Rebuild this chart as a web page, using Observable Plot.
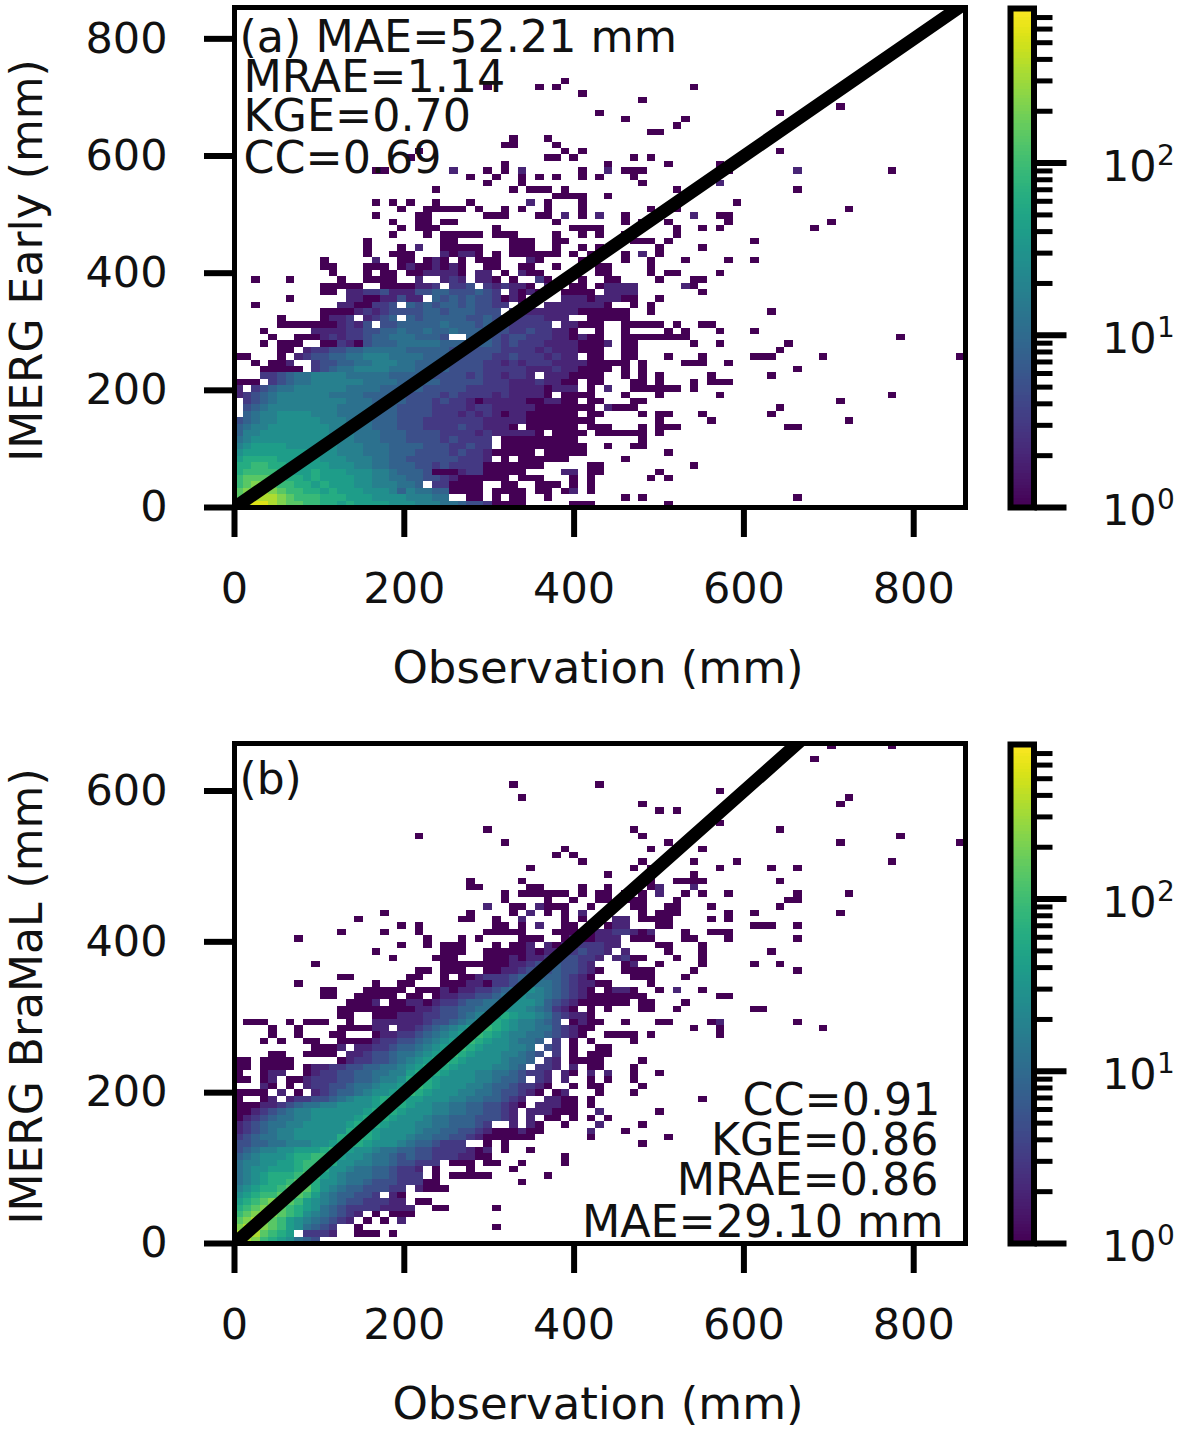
<!DOCTYPE html>
<html><head><meta charset="utf-8">
<script src="https://cdn.jsdelivr.net/npm/d3@7"></script>
<script src="https://cdn.jsdelivr.net/npm/@observablehq/plot@0.6"></script>
<style>
html,body{margin:0;padding:0;background:#fff}
#wrap{position:relative;width:1181px;height:1435px;overflow:hidden}
#wrap>div{position:absolute}
svg{display:block;overflow:visible}
</style></head><body><div id="wrap"></div>
<script>
// per-row cells, bottom row first: "startColumn:levels", "." = empty cell
const levelKeys = "123456789abcdef";
const levelCounts = [1,2,3,5,8,12,18,27,40,60,90,140,220,350,550];
const xTicks = [0,200,400,600,800];
const yTicksA = [0,200,400,600,800];
const yTicksB = [0,200,400,600];
const xMax = 861, yMaxA = 853.5, yMaxB = 663;
const nCols = 85, nRows = 78;
const diagonal = [0, 900];
const cbarMajor = [1,10,100];
const cbarExponents = ["0","1","2"];
const cbarMinor = [2,3,4,5,6,7,8,9,20,30,40,50,60,70,80,90,200,300,400,500,600,700];
const cbarMax = 790;
const xLabel = "Observation (mm)";
const notesA = ["(a) MAE=52.21 mm","MRAE=1.14","KGE=0.70","CC=0.69"];
const notesB = ["CC=0.91","KGE=0.86","MRAE=0.86","MAE=29.10 mm"];

const rowsA = [
"0:deffedccbb 10:aa9a999988 20:8777665443 30:1111.....1 40:11 50:1",
"0:cdeeedcbbb 10:aaa9998888 20:77766..11. 30:1.11..1... 45:1 47:1 65:1",
"0:cdeedcbbaa 10:9a99988875 20:766551111. 30:1111.11.12 41:1",
"0:bcddcbbaa9 10:a999887776 20:65.331111. 30:.11..111.1 41:1",
"0:bccccbaa9a 10:9999887766 20:5544321111 30:11.111...1 41:1 48:1 50:1",
"0:abbbbaa99a 10:9998887765 20:5541112331 30:1111....22 41:11 49:1",
"0:aabbaa9999 10:9888776655 20:5443433331 30:111111.... 41:11 53:1",
"0:9aaaa99999 10:8887776655 20:4444443332 30:.1.111111. 45:1",
"0:8999999998 10:8877766655 20:5444434332 30:11111.1111 40:1 50:1",
"0:7899998888 10:8877766655 20:5544433433 30:.111111111 40:1 43:1 46:11",
"0:6788888888 10:8777666555 20:4444343333 30:.111111111 47:1",
"0:5778888888 10:8777666555 20:4444333323 30:222221.111 40:1 42:111111 49:1",
"0:5677888888 10:8776665554 20:4433334332 30:221.111111 41:11 43:1 47:1 49:1 50:11 64:11",
"0:4567788888 10:7776665554 20:4433333332 30:2222111111 40:11 49:1 55:1 71:1",
"0:.567788887 10:7766655554 20:4443332323 30:2122111111 41:11 47:1 49:1 50:1 54:1 62:1",
"0:.456777777 10:7766665554 20:4443333233 30:2222211111 40:11 43:2111 63:1",
"0:.345677777 10:7776665555 20:4443433212 30:2222112211 41:11 46:11 70:1",
"0:2345677777 10:7666655555 20:4444343333 30:2322221.11 40:11 45:1 49:1 56:1 76:1",
"0:2.34566777 10:7776666555 20:5544444333 30:3322221222 41:1 43:2 46:111 49:111 53:1",
"0:111.345667 10:7777766665 20:5555444443 30:3322232211 41:11 46:11 49:1 53:1 55:111",
"3:3345667 10:7776666655 20:5554444343 30:32332.2221 40:111 45:1 47:1 49:1 55:1 62:1",
"3:11111 9:3 10:4566777766 20:6555544443 30:3333222322 40:111 43:1 45:1 47:1 65:1",
"2:1 4:112 9:3 10:4455667776 20:6555544443 30:3232333222 40:211111 47:1 52:111 57:1",
"0:11 5:1 7:234 10:4556677766 20:6655544444 30:3343332322 41:11 45:11 50:1 54:1 60:111 68:1 84:1",
"5:11 8:23 10:3445566666 20:5555544444 30:4333323222 40:111 45:11 63:1",
"3:1 5:111 10:1132145556 20:6666555555 30:4343332222 40:111 43:2 45:11 53:1 56:1 64:1",
"4:1 7:111 10:2323345566 20:65554..555 30:4344333221 40:211 45:11 47:11111 52:1 77:1",
"3:1 9:2 10:2223344556 20:5565565555 30:4433433221 42:1 45:1 50:1 52:1 56:1 60:1",
"5:11111 10:112324.445 20:5555655545 30:4433333.22 40:111 45:11 47:111 51:1 54:11",
"5:1 10:1223.2345. 20:5455555445 30:443333222. 41:11111",
"10:1111232344 20:4455455544 30:4.33222222 40:111111 48:1 62:1",
"2:1 12:2211334. 20:5454554544 30:33.2..2222 40:2221 46:1 48:1",
"6:1 13:2211224 20:22.5454544 30:3121....22 40:2122211 46:1 49:1",
"10:11.2233422 20:2445544454 30:3.21212.11 40:11 43:2222 54:1",
"10:11111..111 20:1223.334.3 30:23221.2..1 40:1.1 43:2222 52:21 53:1",
"2:1 6:1 12:1 15:1111 21:2 24:23 26:2 28:22 30:1 32:1 35:3 36:1 38:1 40:1 43:11 49:1 53:11",
"11:1 15:1 17:11 20:112 23:22 25:21 28:22 31:1 33:211 42:11 48:1 50:11 56:1",
"10:11 15:111 19:1 20:211 23:212 26:1 29:11 33:11 37:1 42:11 48:1",
"10:1 16:2 19:11 22:121 26:1 28:111 34:21 40:1 45:1 48:1 52:1 57:1 60:1",
"15:1 18:11 20:1 24:21221 30:1 32:1111 36:11 39:1 41:11 45:1 47:2 49:1",
"15:1 19:1 21:2 24:1111 28:1 32:111 37:1 40:1 42:1 49:1 54:1",
"15:1 24:11 32:11 34:1 37:11 46:111 50:1 60:1",
"18:1 22:1 24:11 26:111 30:111 37:1 40:1 42:1 45:1 51:1",
"19:1 21:111 30:1 39:111 42:1 51:1 54:1 56:1 67:1",
"18:1 21:11 24:11 37:1 45:1 47:1 50:1 57:1 69:1",
"16:1 21:11 29:111 35:11 38:2 40:1 42:2 45:1 53:2 56:11",
"19:1 22:11111 28:1 31:1 33:1 36:1 40:1 48:1 51:1 71:1",
"16:1 18:1 20:1 23:1 27:1 34:2 36:1 40:1 58:1",
"37:1111 43:1",
"23:1 32:1 34:111 38:1 51:1 65:1",
"29:1 33:1 47:1 56:2",
"27:1 30:1 33:1 35:1 37:1 40:1 42:1 46:1",
"16:11 25:2 29:1 31:1 33:2 40:1 43:2 45:111 56:11 65:2 76:1",
"31:1 43:1 50:1 56:1",
"20:1 36:11 39:1 46:1 48:1",
"21:1 38:1 40:1 63:1",
"31:11 37:1",
"32:1 36:1",
"48:11",
"51:1",
"45:1 52:1",
"42:1 63:1",
"70:1",
"47:1",
"40:1",
"29:1 35:1 37:1 53:1",
"38:1"
];

const rowsB = [
"0:eedba98654",
"0:edecba9.33 10:32..111.1.",
"0:deedcb9865 10:43..1..... 30:1",
"0:cdedcb9876 10:5432.1.1.2",
"0:bcdedcba87 10:65432.1.11 20:1",
"0:abcddcba98 10:6543333222 20:2..11 30:1",
"0:9abcddcb98 10:7654433322 20:.11",
"0:89abbcdcb9 10:7655443.21",
"0:789aabcdca 10:8765544433 21:2111",
"0:6789aabcca 10:8876654443 20:3311 33:1",
"0:6789aaabcb 10:9876665543 20:33.1.11111 36:1",
"0:6788999abb 10:a887665543 20:32.1...1. 32:1",
"0:6778899abb 10:ba88776654 20:4333.111.1 30:1 33:1 38:1",
"0:5678889aab 10:ba98876654 20:5443332211 38:1",
"0:4567788999 10:aba9887665 20:5443333212 31:1 34:1",
"0:4455667778 10:89aba98887 20:6554333..1 31:1 47:1",
"0:3456677888 10:88aaba9888 20:7665544321 30:1111 34:1 41:1 50:1",
"0:2345677888 10:888aba9888 20:8766554432 30:111211 41:2 45:1",
"0:2345667788 10:8889aba988 20:8776655543 30:..2.21..1. 42:2 47:1",
"0:1234566778 10:88889aba98 20:8876655544 30:432.2.11.1 41:1 43:1",
"0:1123456778 10:888889aba9 20:8887766554 30:432.222111 42:2 49:1",
"0:1112234566 10:7788889aba 20:9887766554 30:4321.22211 41:1",
"0:1..12.2334 10:4567889aba 20:9988877665 30:5432..2211 41:1 54:1",
"0:1111.2.1.2 10:345567889a 20:ba98887766 30:544321.12. 42:1 46:1",
"0:...21.1.23 10:3445667889 20:aba9888776 30:5543321..1 41:11 47:1",
"0:11.12.1123 10:3344556778 20:aba9888877 30:6554.32.2. 41:1 43:1 46:1",
"0:1..122..12 10:3344556677 20:9aba988877 30:6654332.21 41:2 43:2 46:1 49:1",
"0:11.1111.12 10:2334455667 20:89aba98888 30:7765.332.2 41:11 46:1",
"0:11.1111... 10:..12334456 20:789aba9888 30:87665.32.1 40:11 42:1 47:1",
"0:....11..11 10:11.2234456 20:6789aba988 30:877654.3.1 41:1 42:11",
"9:1 10:112.223345 20:56789aba98 30:88776.43.1 42:11",
"3:1 5:1 8:11 12:11112334 20:456789aba9 30:887665.3.1 41:1 46:1",
"4:1 7:1 11:11 16:1223 20:3456789aba 30:9877665432 40:1 43:1111 48:1 56:1",
"4:1 7:1 12:111122.2 20:23456789ab 30:a987766432 40:11 53:1 56:1 68:1",
"1:111 6:1 8:11 10:1..1..2222 20:2234456789 30:a9877654.1 40:211 45:1 49:11 55:12 65:1",
"12:11..1112 20:2233445678 30:9a98876432 40:21",
"12:11 14:111 17:1 18:111 21:22 23:34 25:45 27:56 29:67 31:88 33:87 35:65 37:3 38:21 41:1 43:1 47:11 51:1 60:11",
"13:111 15:1 16:2 18:11 20:2212 24:33 26:45 28:56 30:67 32:88 34:87 36:54 38:321 41:11111 47:11 52:1",
"10:11 14:1 15:111 18:1 20:11 23:12 25:23 27:34 29:45 31:67 33:87 35:76 37:543 40:21 42:111111 56:11",
"10:11 15:111 18:11 21:111 24:2 25:1 26:22 28:33 30:45 32:67 34:87 36:65 38:43 40:21 43:1221 49:1 51:2 54:1",
"7:1 16:1 19:11 24:1 25:11 27:221 30:33 32:45 34:66 36:65 38:43 40:2 41:211 48:1",
"12:11 20:11 24:1 26:11 28:2 29:33 31:34 33:55 35:65 37:54 39:3 40:21 46:111 52:1",
"21:11 24:1 25:11 29:11 31:22 33:34 35:54 37:54 39:43 41:21 45:1111 53:1 65:1",
"9:1 24:1 25:11 27:11 29:11 31:12 33:23 35:44 37:54 39:43 41:2 45:1 46:2 49:1 54:1 60:1 63:1",
"18:1 23:111 29:1112 33:12 35:23 37:44 39:43 41:3 42:2 44:231 47:1 51:1 54:1",
"16:1 24:11 26:1 29:111 32:1 33:12 35:122 38:33 40:43 42:32 45:2 50:1 54:1 62:1",
"19:1 22:1 24:111 30:1 32:1 33:12 36:21 38:22 40:33 42:32 44:2 49:11 54:1",
"7:1 22:1 26:1 28:1 33:111 38:111 39:2 41:12 43:22 46:111 52:11 57:1 65:1",
"12:1 17:1 21:1 29:1111 33:1 37:111 40:11 42:22 44:33 46:212 52:1 55:111",
"19:1 21:1 30:11 33:1 35:2 38:11 41:1 43:122 49:1 50:1 60:111 65:1",
"14:1 26:11 30:1 33:2 38:1 40:1 42:1 44:22 47:1111 55:1 57:1",
"17:1 27:1 32:1 34:2 36:1 38:1 40:2 47:1 49:111 57:1 60:1 70:1",
"29:2 32:11 35:2 36:1 37:11 41:1 46:11 50:11 55:1 63:1",
"31:1 36:1 39:1 42:11 45:111 51:1 64:11",
"31:1 33:111111 40:1 42:11 45:1 47:1 49:2 52:1 54:1 57:1 65:1 71:1",
"27:1 28:1 34:11 40:1 43:1 48:1 49:2 53:2",
"27:1 33:1 48:1 51:11 53:1 54:1 63:1",
"43:1 53:1",
"34:1 46:1 48:1 56:1 62:1 65:1",
"40:1 47:1 53:1 58:1 76:1",
"37:1 39:1",
"38:1 48:1 54:1",
"31:1 50:1 70:1 84:1",
"21:1 47:1 77:1",
"29:1 46:1 63:1",
"56:1",
"",
"49:1 51:1",
"47:1 70:1",
"33:1 71:1",
"56:1",
"32:1 42:1",
"","","",
"67:1",
"",
"69:1 76:1"
];

function cells(rows, yMax){
  const bx = xMax/nCols, by = yMax/nRows, out = [];
  rows.forEach((row,j)=>{
    if(!row) return;
    const m = new Map();
    row.split(" ").forEach(seg=>{
      const [s,lv] = seg.split(":");
      [...lv].forEach((ch,k)=>{
        const c = +s+k;
        const idx = levelKeys.indexOf(ch);
        if(idx<0) m.delete(c); else m.set(c, levelCounts[idx]);
      });
    });
    for(const [c,v] of m) out.push({x1:c*bx,x2:(c+1)*bx,y1:j*by,y2:(j+1)*by,v});
  });
  return out;
}
const FONT = "'DejaVu Sans'";
const colorScale = {type:"log",scheme:"viridis",domain:[1,cbarMax],clamp:true};

function panel(rows,yMax,yTicks,yLabel,notesMark,top){
  const svg = Plot.plot({
    width:1000,height:700,
    marginLeft:234,marginRight:35,marginTop:7,marginBottom:193,
    style:{fontFamily:FONT,background:"transparent",overflow:"visible"},
    x:{domain:[0,xMax]},
    y:{domain:[0,yMax]},
    color:colorScale,
    marks:[
      Plot.rect(cells(rows,yMax),{x1:"x1",x2:"x2",y1:"y1",y2:"y2",fill:"v",shapeRendering:"crispEdges"}),
      Plot.line(diagonal.map(d=>[d,d]),{stroke:"black",strokeWidth:13,clip:"frame"}),
      ...notesMark,
      Plot.frame({stroke:"black",strokeWidth:5}),
      Plot.axisX({ticks:xTicks,tickSize:30,strokeWidth:6,tickPadding:35,fontSize:43,fill:"#111",label:null,tickFormat:d=>String(d)}),
      Plot.axisY({ticks:yTicks,tickSize:30,strokeWidth:6,tickPadding:37,fontSize:43,fill:"#111",label:null,tickFormat:d=>String(d)}),
      Plot.text([xLabel],{text:d=>d,frameAnchor:"bottom",lineAnchor:"middle",dx:-2,dy:161,fontSize:45,fill:"#111"}),
      Plot.text([yLabel],{text:d=>d,frameAnchor:"left",textAnchor:"middle",lineAnchor:"middle",rotate:-90,dx:-207,dy:3,fontSize:44,fill:"#111"})
    ]
  });
  const d = document.createElement("div");
  d.style.left="0px"; d.style.top=top+"px";
  d.appendChild(svg);
  document.getElementById("wrap").appendChild(d);
}

function colorbar(top){
  const stops = d3.range(0,160).map(i=>{
    const a=Math.pow(cbarMax,i/160), b=Math.pow(cbarMax,(i+1)/160);
    return {a,b,v:Math.sqrt(a*b)};
  });
  const svg = Plot.plot({
    width:181,height:700,
    marginLeft:10,marginRight:147.5,marginTop:8,marginBottom:193,
    style:{fontFamily:FONT,background:"transparent",overflow:"visible"},
    x:{domain:[0,1],axis:null},
    y:{type:"log",domain:[1,cbarMax]},
    color:colorScale,
    marks:[
      Plot.rect(stops,{x1:()=>0,x2:()=>1,y1:"a",y2:"b",fill:"v",shapeRendering:"crispEdges"}),
      Plot.frame({stroke:"black",strokeWidth:6}),
      Plot.axisY({anchor:"right",ticks:cbarMinor,tickSize:18,strokeWidth:5,tickFormat:()=>"",label:null}),
      Plot.axisY({anchor:"right",ticks:cbarMajor,tickSize:32,strokeWidth:6,tickFormat:()=>"",label:null}),
      Plot.text(cbarMajor,{y:d=>d,text:()=>"10",frameAnchor:"right",textAnchor:"start",lineAnchor:"middle",dx:68,dy:4,fontSize:43,fill:"#111"}),
      Plot.text(cbarMajor,{y:d=>d,text:(d,i)=>cbarExponents[i],frameAnchor:"right",textAnchor:"start",lineAnchor:"middle",dx:123,dy:-7,fontSize:28,fill:"#111"})
    ]
  });
  const d = document.createElement("div");
  d.style.left="1000px"; d.style.top=top+"px";
  d.appendChild(svg);
  document.getElementById("wrap").appendChild(d);
}

const noteA = notesA.map((t,i)=>Plot.text([t],{text:d=>d,frameAnchor:"top-left",lineAnchor:"middle",textAnchor:"start",dx:i===0?5:9,dy:[30,70,109,151][i],fontSize:44.4,fill:"#111"}));
const noteB = notesB.map((t,i)=>Plot.text([t],{text:d=>d,frameAnchor:"bottom-right",lineAnchor:"middle",textAnchor:"end",dx:[-25,-27,-27,-22][i],dy:[-143,-103,-63,-21][i],fontSize:44.4,fill:"#111"}));
const labelB = Plot.text(["(b)"],{text:d=>d,frameAnchor:"top-left",lineAnchor:"middle",textAnchor:"start",dx:5,dy:36,fontSize:44,fill:"#111"});

panel(rowsA,yMaxA,yTicksA,"IMERG Early (mm)",noteA,0);
panel(rowsB,yMaxB,yTicksB,"IMERG BraMaL (mm)",[...noteB,labelB],736);
colorbar(0);
colorbar(736);
</script></body></html>
